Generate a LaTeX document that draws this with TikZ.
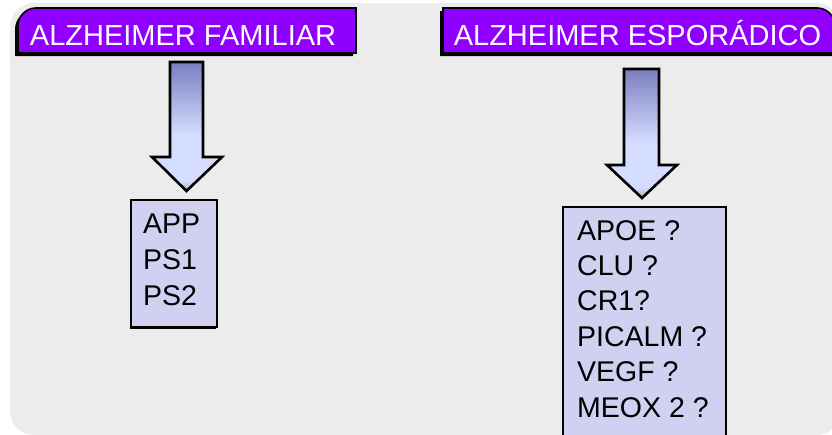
\documentclass[tikz,border=0pt]{standalone}
\usepackage{fontspec}
\setmainfont{Liberation Sans}
\usetikzlibrary{shadows}
\definecolor{bggray}{RGB}{236,236,236}
\definecolor{titlepurple}{RGB}{143,0,255}
\definecolor{boxfill}{RGB}{208,208,240}
\definecolor{arrowtop}{RGB}{122,126,192}
\definecolor{arrowlight}{RGB}{212,220,255}
\definecolor{arrowbot}{RGB}{165,182,168}
\pgfdeclareverticalshading{arrowshade}{100bp}{color(0bp)=(arrowbot); color(25bp)=(arrowbot); color(29bp)=(arrowlight); color(47bp)=(arrowlight); color(75bp)=(arrowtop); color(100bp)=(arrowtop)}
\begin{document}
\begin{tikzpicture}[x=1pt,y=-1pt,
  titlebox/.style={fill=titlepurple, draw=black, line width=1.6pt,
    drop shadow={shadow xshift=-3pt, shadow yshift=-3pt, opacity=1, fill=black}},
  titletext/.style={text=white, inner sep=0pt, anchor=base, font=\fontsize{29}{34}\selectfont},
  blockarrow/.style={shading=arrowshade, draw=black, line width=2.6pt, line join=miter},
  genebox/.style={fill=boxfill, draw=black, line width=2.4pt, inner sep=0pt,
    drop shadow={shadow xshift=-1.5pt, shadow yshift=-1.5pt, opacity=1, fill=black}},
  genetext/.style={text=black, inner sep=0pt, anchor=base west, align=left}]
\useasboundingbox (0,0) rectangle (832,434);
% background panel
\fill[bggray, rounded corners=24pt] (10,3) rectangle (840,435);
% title boxes
\path[titlebox] (18,53) -- (18,26) arc[start angle=180, end angle=270, radius=18] -- (356,8) -- (356,53) -- cycle;
\path[titlebox] (443,53) -- (443,8) -- (817,8) arc[start angle=270, end angle=360, radius=18] -- (835,53) -- cycle;
\node[titletext] (famtitle) at (183,45) {ALZHEIMER FAMILIAR};
\node[titletext] (esptitle) at (637.5,45) {ALZHEIMER ESPORÁDICO};
% block arrows
\path[blockarrow] (170,62) -- (203,62) -- (203,157) -- (222,157) -- (186.5,191) -- (152,157) -- (170,157) -- cycle;
\path[blockarrow] (624,69) -- (659,69) -- (659,165) -- (677,165) -- (642,198) -- (607,165) -- (624,165) -- cycle;
% gene boxes
\node[genebox, minimum width=86pt, minimum height=127pt] (fambox) at (174,263.5) {};
\node[genetext, font=\fontsize{28.5}{36}\selectfont] (famgenes) at (143,305) {APP\\PS1\\PS2};
\node[genebox, minimum width=163pt, minimum height=240pt] (espbox) at (644.5,327) {};
\node[genetext, font=\fontsize{28.5}{35.4}\selectfont] (espgenes) at (577,417) {APOE ?\\CLU ?\\CR1?\\PICALM ?\\VEGF ?\\MEOX 2 ?};
\end{tikzpicture}
\end{document}
